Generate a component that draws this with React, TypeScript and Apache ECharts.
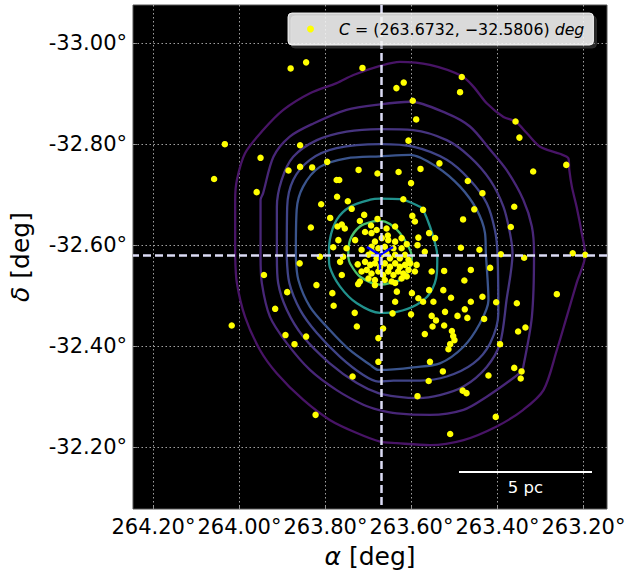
import React, { useEffect, useRef } from 'react';
import * as echarts from 'echarts';

const FONT = "'DejaVu Sans', sans-serif";

// cluster centre (deg)
const centerRA = 263.6732;
const centerDec = -32.5806;

// visible window (deg)
const raRange = [263.1453, 264.2476];
const decRange = [-33.0756, -32.0776];

// tick values
const raTicks = [264.2, 264.0, 263.8, 263.6, 263.4, 263.2];
const decTicks = [-33.0, -32.8, -32.6, -32.4, -32.2];

// 5 pc scale bar (deg)
const scaleBarRA = [263.4895, 263.1802];
const scaleBarDec = -32.1509;
const scaleBarLabel = '5 pc';

// member stars [ra, dec]
const stars: number[][] = [
  [263.881, -32.950], [263.845, -32.962], [263.714, -32.951], [264.034, -32.800], [263.859, -32.798],
  [263.951, -32.773], [263.886, -32.748], [263.859, -32.755], [263.831, -32.754], [263.796, -32.765],
  [264.059, -32.731], [263.960, -32.705], [263.723, -32.749], [263.679, -32.742], [263.774, -32.729],
  [263.768, -32.729], [263.773, -32.696], [263.810, -32.681], [263.748, -32.687], [263.789, -32.654],
  [263.834, -32.635], [263.782, -32.596], [263.813, -32.577],
  [263.635, -32.911], [263.618, -32.922], [263.597, -32.886], [263.589, -32.849], [263.483, -32.933],
  [263.487, -32.903], [263.358, -32.845], [263.349, -32.813], [263.607, -32.807], [263.630, -32.745],
  [263.579, -32.751], [263.535, -32.762], [263.240, -32.759], [263.317, -32.746], [263.469, -32.727],
  [263.435, -32.703], [263.601, -32.723], [263.454, -32.671], [263.361, -32.676], [263.480, -32.651],
  [263.369, -32.636], [263.619, -32.691], [263.573, -32.670], [263.485, -32.595], [263.442, -32.591],
  [263.392, -32.582], [263.338, -32.575], [263.225, -32.584], [263.196, -32.581],
  [263.860, -32.564], [263.943, -32.541], [263.889, -32.507], [263.821, -32.521], [263.784, -32.505],
  [263.781, -32.480], [263.917, -32.474], [264.018, -32.441], [263.893, -32.422], [263.872, -32.404],
  [263.845, -32.419], [263.732, -32.466], [263.727, -32.439], [263.677, -32.416], [263.677, -32.369],
  [263.737, -32.340], [263.823, -32.264],
  [263.462, -32.551], [263.477, -32.530], [263.417, -32.555], [263.508, -32.496], [263.462, -32.488],
  [263.435, -32.498], [263.403, -32.487], [263.355, -32.485], [263.262, -32.503], [263.644, -32.465],
  [263.601, -32.463], [263.553, -32.460], [263.522, -32.468], [263.493, -32.460], [263.476, -32.473],
  [263.470, -32.456], [263.543, -32.451], [263.551, -32.439], [263.524, -32.441], [263.431, -32.454],
  [263.506, -32.430], [263.503, -32.420], [263.500, -32.412], [263.510, -32.404], [263.514, -32.394],
  [263.569, -32.424], [263.666, -32.435], [263.352, -32.429], [263.335, -32.437], [263.394, -32.404],
  [263.557, -32.369], [263.527, -32.350], [263.560, -32.331], [263.361, -32.357], [263.344, -32.350],
  [263.346, -32.336], [263.421, -32.342], [263.481, -32.312], [263.472, -32.307], [263.586, -32.301],
  [263.404, -32.260], [263.510, -32.226], [263.524, -32.549], [263.549, -32.488],
  [263.739, -32.672], [263.710, -32.660], [263.679, -32.652], [263.720, -32.648], [263.762, -32.641],
  [263.772, -32.637], [263.755, -32.633], [263.694, -32.639], [263.708, -32.626], [263.693, -32.624],
  [263.681, -32.630], [263.658, -32.633], [263.655, -32.619], [263.638, -32.637], [263.598, -32.658],
  [263.592, -32.647], [263.584, -32.615], [263.559, -32.624], [263.545, -32.614], [263.569, -32.587],
  [263.586, -32.600], [263.611, -32.602], [263.731, -32.610], [263.685, -32.607], [263.751, -32.594],
  [263.770, -32.610], [263.759, -32.577], [263.766, -32.567], [263.716, -32.591], [263.762, -32.541],
  [263.725, -32.562], [263.716, -32.548], [263.720, -32.528], [263.724, -32.523], [263.685, -32.521],
  [263.638, -32.525], [263.634, -32.508], [263.638, -32.488], [263.599, -32.505], [263.588, -32.561],
  [263.592, -32.548], [263.553, -32.548], [263.559, -32.511], [263.584, -32.495], [263.573, -32.488],
  [263.526, -32.511],
  [263.700, -32.581], [263.691, -32.587], [263.681, -32.574], [263.669, -32.581], [263.658, -32.584],
  [263.650, -32.574], [263.638, -32.581], [263.627, -32.574], [263.615, -32.581], [263.607, -32.571],
  [263.708, -32.567], [263.696, -32.561], [263.685, -32.564], [263.673, -32.557], [263.662, -32.564],
  [263.650, -32.557], [263.638, -32.564], [263.627, -32.557], [263.615, -32.561], [263.603, -32.564],
  [263.704, -32.551], [263.693, -32.544], [263.677, -32.548], [263.666, -32.541], [263.654, -32.548],
  [263.642, -32.541], [263.631, -32.548], [263.619, -32.544], [263.607, -32.551], [263.700, -32.534],
  [263.685, -32.531], [263.662, -32.531], [263.646, -32.528], [263.623, -32.534], [263.611, -32.538],
  [263.677, -32.594], [263.662, -32.597], [263.642, -32.594], [263.623, -32.594], [263.693, -32.597],
  [263.638, -32.607], [263.623, -32.614], [263.669, -32.614], [263.654, -32.610],
];

// density contours [ra, dec], outermost first
const contour1 = [
  [264.010, -32.577], [264.010, -32.690], [264.006, -32.729], [263.987, -32.782], [263.945, -32.828],
  [263.898, -32.868], [263.836, -32.901], [263.774, -32.921], [263.735, -32.937], [263.673, -32.955],
  [263.627, -32.963], [263.557, -32.957], [263.483, -32.935], [263.456, -32.914], [263.425, -32.881],
  [263.386, -32.854], [263.358, -32.845], [263.332, -32.822], [263.301, -32.795], [263.255, -32.781],
  [263.235, -32.772], [263.233, -32.749], [263.227, -32.716], [263.216, -32.676], [263.204, -32.624],
  [263.196, -32.581], [263.216, -32.525], [263.239, -32.458], [263.262, -32.392], [263.293, -32.313],
  [263.340, -32.274], [263.402, -32.241], [263.479, -32.214], [263.557, -32.204], [263.634, -32.208],
  [263.673, -32.211], [263.727, -32.228], [263.790, -32.254], [263.852, -32.294], [263.913, -32.346],
  [263.952, -32.392], [263.987, -32.458], [264.006, -32.525], [264.010, -32.577],
];
const contour2 = [
  [263.951, -32.577], [263.951, -32.690], [263.945, -32.703], [263.921, -32.775], [263.883, -32.815],
  [263.828, -32.841], [263.751, -32.868], [263.673, -32.879], [263.603, -32.884], [263.518, -32.861],
  [263.464, -32.835], [263.417, -32.789], [263.379, -32.749], [263.340, -32.690], [263.320, -32.637],
  [263.315, -32.584], [263.320, -32.458], [263.340, -32.359], [263.344, -32.350], [263.379, -32.327],
  [263.425, -32.300], [263.479, -32.274], [263.557, -32.264], [263.634, -32.267], [263.677, -32.274],
  [263.712, -32.284], [263.774, -32.313], [263.836, -32.353], [263.890, -32.406], [263.929, -32.458],
  [263.948, -32.525], [263.951, -32.577],
];
const contour3 = [
  [263.913, -32.577], [263.913, -32.676], [263.902, -32.729], [263.875, -32.775], [263.820, -32.808],
  [263.751, -32.825], [263.673, -32.830], [263.596, -32.828], [263.518, -32.808], [263.464, -32.775],
  [263.417, -32.729], [263.386, -32.676], [263.371, -32.624], [263.365, -32.584], [263.379, -32.491],
  [263.394, -32.406], [263.425, -32.359], [263.479, -32.320], [263.534, -32.303], [263.584, -32.297],
  [263.634, -32.300], [263.677, -32.307], [263.727, -32.327], [263.790, -32.366], [263.852, -32.419],
  [263.890, -32.472], [263.910, -32.525], [263.913, -32.577],
];
const contour4 = [
  [263.890, -32.577], [263.889, -32.676], [263.875, -32.729], [263.836, -32.769], [263.774, -32.792],
  [263.673, -32.800], [263.596, -32.795], [263.518, -32.769], [263.464, -32.729], [263.425, -32.683],
  [263.406, -32.630], [263.400, -32.584], [263.398, -32.465], [263.417, -32.406], [263.456, -32.366],
  [263.518, -32.340], [263.580, -32.332], [263.642, -32.332], [263.677, -32.330], [263.712, -32.343],
  [263.766, -32.379], [263.820, -32.426], [263.859, -32.472], [263.884, -32.525], [263.890, -32.577],
];
const contour5 = [
  [263.869, -32.577], [263.867, -32.670], [263.852, -32.716], [263.813, -32.755], [263.751, -32.772],
  [263.673, -32.776], [263.603, -32.779], [263.541, -32.755], [263.487, -32.716], [263.448, -32.670],
  [263.429, -32.624], [263.427, -32.584], [263.421, -32.491], [263.441, -32.445], [263.479, -32.399],
  [263.534, -32.366], [263.596, -32.358], [263.642, -32.354], [263.677, -32.353], [263.696, -32.363],
  [263.743, -32.392], [263.790, -32.432], [263.836, -32.478], [263.863, -32.531], [263.869, -32.577],
];
const contour6 = [
  [263.792, -32.577], [263.790, -32.610], [263.774, -32.650], [263.743, -32.676], [263.696, -32.690],
  [263.673, -32.692], [263.627, -32.691], [263.580, -32.676], [263.573, -32.670], [263.557, -32.637],
  [263.543, -32.597], [263.540, -32.577], [263.541, -32.544], [263.557, -32.505], [263.588, -32.482],
  [263.634, -32.468], [263.673, -32.466], [263.727, -32.485], [263.766, -32.518], [263.790, -32.557],
  [263.792, -32.577],
];
const contour7 = [
  [263.747, -32.577], [263.743, -32.610], [263.720, -32.637], [263.689, -32.647], [263.673, -32.648],
  [263.650, -32.642], [263.627, -32.624], [263.607, -32.597], [263.599, -32.577], [263.603, -32.557],
  [263.619, -32.534], [263.650, -32.525], [263.673, -32.522], [263.720, -32.538], [263.743, -32.564],
  [263.747, -32.577],
];
const contours = [contour1, contour2, contour3, contour4, contour5, contour6, contour7];
const contourColors = ['#481466', '#482677', '#46347f', '#404488', '#3a548c', '#21918c', '#4ac16d'];

const fmtDeg = (v: number) => v.toFixed(2) + '°';

export default function App() {
  const ref = useRef<HTMLDivElement>(null);
  useEffect(() => {
    if (!ref.current) return;
    const chart = echarts.init(ref.current, undefined, { renderer: 'svg' });
    const legendText = `{s|}{i|C} = (${centerRA.toFixed(4)}, −${Math.abs(centerDec).toFixed(4)}) {i|deg}`;
    const series: any[] = [
      {
        type: 'line',
        name: 'grid',
        data: [],
        silent: true,
        z: 1,
        markLine: {
          silent: true,
          symbol: 'none',
          z: 1,
          label: { show: false },
          lineStyle: { color: '#a0a0a0', width: 1, type: [1.5, 2.5] },
          data: [
            ...raTicks.map((v) => ({ xAxis: v })),
            ...decTicks.map((v) => ({ yAxis: v })),
          ],
        },
      },
      ...contours.map((c, i) => ({
        type: 'line',
        name: 'contour' + (i + 1),
        data: c,
        smooth: 0.3,
        showSymbol: false,
        symbol: 'none',
        silent: true,
        z: 2,
        lineStyle: { color: contourColors[i], width: 2.3 },
      })),
      {
        type: 'scatter',
        name: 'C',
        data: stars,
        symbol: 'circle',
        symbolSize: 6.5,
        itemStyle: { color: '#ffff00', opacity: 1 },
        z: 3,
        silent: true,
      },
      {
        type: 'custom',
        name: 'centre',
        data: [[centerRA, centerDec]],
        silent: true,
        z: 4,
        renderItem: (params: any, api: any) => {
          const p = api.coord([api.value(0), api.value(1)]);
          const st = { stroke: '#0000ff', lineWidth: 2.5, fill: 'none' };
          return {
            type: 'group',
            children: [
              { type: 'line', shape: { x1: p[0], y1: p[1], x2: p[0] - 13, y2: p[1] - 8 }, style: st },
              { type: 'line', shape: { x1: p[0], y1: p[1], x2: p[0] + 13, y2: p[1] - 8 }, style: st },
              { type: 'line', shape: { x1: p[0], y1: p[1], x2: p[0], y2: p[1] + 15 }, style: st },
            ],
          };
        },
      },
      {
        type: 'line',
        name: 'crosshair',
        data: [],
        silent: true,
        z: 5,
        markLine: {
          silent: true,
          symbol: 'none',
          z: 5,
          label: { show: false },
          lineStyle: { color: '#dcdcf5', width: 2.5, type: [8, 4] },
          data: [{ xAxis: centerRA }, { yAxis: centerDec }],
        },
      },
      {
        type: 'line',
        name: 'scalebar',
        data: scaleBarRA.map((r) => [r, scaleBarDec]),
        showSymbol: false,
        symbol: 'none',
        silent: true,
        z: 5,
        lineStyle: { color: '#ffffff', width: 2 },
      },
      {
        type: 'scatter',
        name: 'scalelabel',
        data: [[(scaleBarRA[0] + scaleBarRA[1]) / 2, scaleBarDec]],
        symbolSize: 0.1,
        silent: true,
        z: 5,
        itemStyle: { opacity: 1 },
        label: {
          show: true,
          position: 'bottom',
          distance: 7,
          formatter: scaleBarLabel,
          color: '#ffffff',
          fontFamily: FONT,
          fontSize: 16.5,
        },
      },
    ];

    chart.setOption({
      animation: false,
      backgroundColor: '#ffffff',
      grid: {
        left: 133,
        top: 5,
        width: 474,
        height: 504,
        show: true,
        backgroundColor: '#000000',
        borderColor: '#555555',
        borderWidth: 1,
        containLabel: false,
      },
      legend: {
        data: ['C'],
        left: 288,
        top: 13,
        z: 20,
        icon: 'circle',
        itemWidth: 7,
        itemHeight: 7,
        padding: [8, 9, 8, 19],
        backgroundColor: 'rgba(255,255,255,0.8)',
        borderColor: 'rgba(255,255,255,0.85)',
        borderWidth: 1,
        borderRadius: 4,
        shadowColor: 'rgba(80,80,80,0.6)',
        shadowOffsetX: 3,
        shadowOffsetY: 3,
        shadowBlur: 0,
        selectedMode: false,
        formatter: () => legendText,
        textStyle: {
          fontFamily: FONT,
          fontSize: 15.8,
          color: '#000000',
          rich: {
            s: { width: 20 },
            i: { fontFamily: FONT, fontSize: 15.8, fontStyle: 'italic', color: '#000000' },
          },
        },
      },
      xAxis: {
        type: 'value',
        min: raRange[0],
        max: raRange[1],
        inverse: true,
        name: '{i|α} [deg]',
        nameLocation: 'middle',
        nameGap: 35,
        nameTextStyle: {
          fontFamily: FONT,
          fontSize: 25,
          color: '#000000',
          rich: { i: { fontFamily: FONT, fontSize: 25, fontStyle: 'italic', color: '#000000' } },
        },
        axisLine: { show: false },
        splitLine: { show: false },
        axisTick: { show: true, inside: true, length: 4, customValues: raTicks, lineStyle: { color: '#888888' } },
        axisLabel: {
          customValues: raTicks,
          formatter: (v: number) => fmtDeg(v),
          fontFamily: FONT,
          fontSize: 21,
          color: '#000000',
          margin: 7,
        },
      },
      yAxis: {
        type: 'value',
        min: decRange[0],
        max: decRange[1],
        inverse: true,
        name: '{i|δ} [deg]',
        nameLocation: 'middle',
        nameGap: 100,
        nameTextStyle: {
          fontFamily: FONT,
          fontSize: 25,
          color: '#000000',
          rich: { i: { fontFamily: FONT, fontSize: 25, fontStyle: 'italic', color: '#000000' } },
        },
        axisLine: { show: false },
        splitLine: { show: false },
        axisTick: { show: true, inside: true, length: 4, customValues: decTicks, lineStyle: { color: '#888888' } },
        axisLabel: {
          customValues: decTicks,
          formatter: (v: number) => fmtDeg(v),
          fontFamily: FONT,
          fontSize: 21,
          color: '#000000',
          margin: 6,
        },
      },
      series,
    });
    return () => chart.dispose();
  }, []);
  return (
    <div
      ref={ref}
      style={{ position: 'fixed', left: 0, top: 0, width: 630, height: 577, background: '#ffffff' }}
    />
  );
}
